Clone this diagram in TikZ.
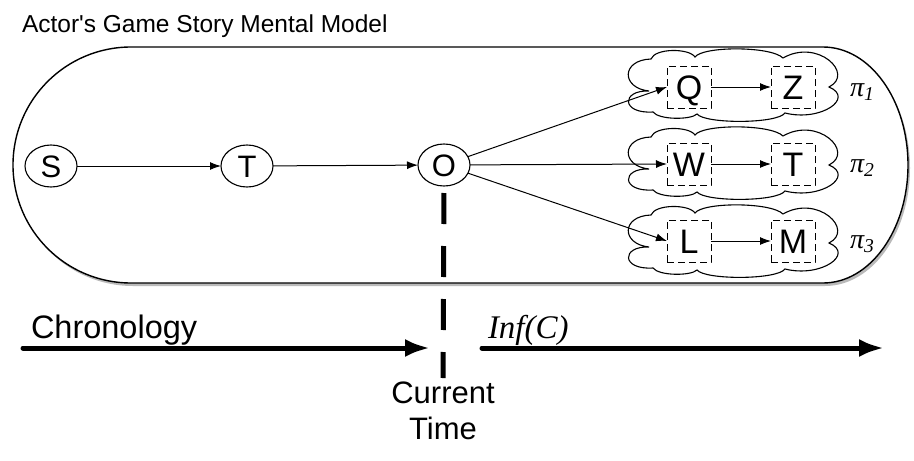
\documentclass[tikz,border=0pt]{standalone}
\usepackage{fontspec}
\setmainfont{Liberation Sans}
\newfontfamily\serifit{Liberation Serif}
\usetikzlibrary{arrows.meta,shapes.geometric,shadows}
\begin{document}
\begin{tikzpicture}[x=1pt,y=-1pt,
  every node/.style={inner sep=0pt, outer sep=0pt},
  ev/.style={ellipse, draw, line width=1.1pt, minimum width=52pt, minimum height=42pt,
    font=\fontsize{31}{31}\selectfont, text height=22pt, text depth=0pt},
  ph/.style={rectangle, draw, dash pattern=on 7pt off 4pt, line width=1pt,
    minimum width=44pt, minimum height=42pt,
    font=\fontsize{34}{34}\selectfont, text height=24pt, text depth=0pt},
  flow/.style={-{Latex[length=11pt,width=8pt]}, line width=1pt},
  timearrow/.style={-{Latex[length=25pt,width=18pt]}, line width=5pt},
  lbl/.style={font=\serifit\itshape\fontsize{28}{28}\selectfont, anchor=west},
  cloudpic/.pic={
    \draw[line width=1.1pt, line join=miter]
      (-84,5) .. controls (-112,2) and (-112,-26) .. (-82,-27)
      .. controls (-78,-38) and (-44,-38) .. (-38,-29)
      .. controls (-30,-40) and (38,-40) .. (50,-28)
      .. controls (85,-48) and (122,-12) .. (96,1)
      .. controls (122,12) and (88,36) .. (52,27)
      .. controls (44,38) and (-28,38) .. (-36,28)
      .. controls (-42,34) and (-74,34) .. (-80,26)
      .. controls (-112,28) and (-112,4) .. cycle;
  }
]
\useasboundingbox (0,0) rectangle (914,461);
% frame
\draw[line width=1.4pt, fill=white,
  drop shadow={shadow xshift=2pt, shadow yshift=-3pt, fill=black!45, opacity=0.6}]
  (131,47) -- (823,47) arc[start angle=-90, end angle=90, x radius=85, y radius=118]
  -- (131,283) arc[start angle=90, end angle=270, radius=118] -- cycle;
\node[anchor=base west, font=\fontsize{24.5}{29}\selectfont] (title) at (22,32)
  {Actor\textquotesingle s Game Story Mental Model};
% clouds
\pic at (733,86) {cloudpic};
\pic at (733,164) {cloudpic};
\pic at (733,242) {cloudpic};
% event nodes
\node[ev] (S) at (51,166) {S};
\node[ev] (T) at (247,166) {T};
\node[ev] (O) at (444,165) {O};
% placeholder boxes
\node[ph] (Q) at (689,87) {Q};
\node[ph] (Z) at (793,87) {Z};
\node[ph] (W) at (689,164) {W};
\node[ph] (T2) at (793,164) {T};
\node[ph] (L) at (689,241) {L};
\node[ph] (M) at (793,241) {M};
% pi labels
\node[lbl] (p1) at (850,92) {π\textsubscript{1}};
\node[lbl] (p2) at (850,168) {π\textsubscript{2}};
\node[lbl] (p3) at (850,244) {π\textsubscript{3}};
% connectors
\draw[flow] (S) -- (T);
\draw[flow] (T) -- (O);
\draw[flow] (O) -- (Q.west);
\draw[flow] (O) -- (W.west);
\draw[flow] (O) -- (L.west);
\draw[flow] (Q) -- (Z);
\draw[flow] (W) -- (T2);
\draw[flow] (L) -- (M);
% timeline
\coordinate (chA) at (23,348);
\coordinate (chB) at (430,348);
\coordinate (infA) at (482,348);
\coordinate (infB) at (884,348);
\coordinate (ctEnd) at (443,378);
\draw[timearrow, line cap=round] (chA) -- (chB);
\draw[timearrow, line cap=round] (infA) -- (infB);
\draw[line width=5pt, dash pattern=on 31pt off 22pt, shorten <=7pt] (O.south) -- (ctEnd);
\node[anchor=base west, font=\fontsize{32.5}{32.5}\selectfont] (chron) at (31,338) {Chronology};
\node[anchor=base west, font=\serifit\itshape\fontsize{33}{33}\selectfont] (inf) at (488,338) {Inf(C)};
\node[anchor=base, font=\fontsize{31}{31}\selectfont] (cur) at (443,403) {Current};
\node[anchor=base, font=\fontsize{31}{31}\selectfont] (tim) at (443,439) {Time};
\end{tikzpicture}
\end{document}
